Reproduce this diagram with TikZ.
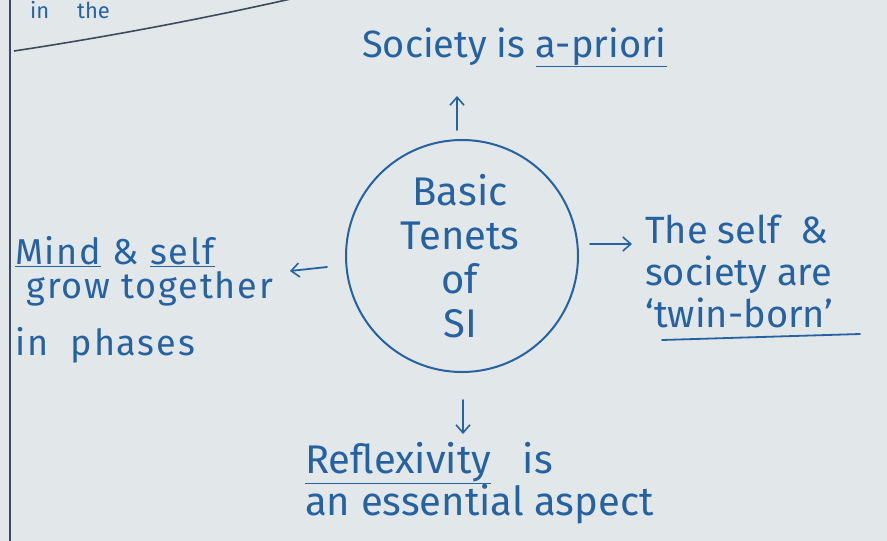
\documentclass[tikz,border=0pt]{standalone}
\usepackage{fontspec}
\setmainfont{Fira Sans}
\usetikzlibrary{arrows.meta}
\definecolor{paper}{RGB}{226,231,233}
\definecolor{ink}{RGB}{38,98,160}
\definecolor{rule}{RGB}{60,75,95}
\tikzset{
  hand/.style={text=ink, inner sep=0pt, anchor=base west, align=left},
  pen/.style={draw=ink, line width=1.8pt, line cap=round},
  penarrow/.style={pen, -{Straight Barb[length=8pt, width=14pt, line width=1.6pt]}},
}
\begin{document}
\begin{tikzpicture}[x=1pt, y=-1pt]
\fill[paper] (0,0) rectangle (887,541);
\useasboundingbox (0,0) rectangle (887,541);
% page edge and top rule
\draw[rule, line width=2.5pt] (10,0) -- (10,541);
\draw[rule, line width=1.6pt] (14,51) .. controls (120,35) and (220,15) .. (295,-2);
\node[hand, anchor=north west, font=\fontsize{22}{26}\selectfont] (topcut) at (30,1) {in \quad the};
% centre
\node[draw=ink, line width=2pt, circle, minimum size=232pt] (c) at (462,256) {};
\node[text=ink, font=\fontsize{40}{44}\selectfont, align=center, inner sep=0pt] (ct) at (460,256) {Basic\\Tenets\\of\\SI};
% top
\node[hand, font=\fontsize{38}{42}\selectfont] (top) at (362,57) {Society is \underline{a-priori}};
\coordinate (topA) at (457,130);
\coordinate (topB) at (457,96);
\draw[penarrow] (topA) -- (topB);
% right
\coordinate (rA) at (590,244);
\coordinate (rB) at (632,244);
\draw[penarrow] (rA) -- (rB);
\node[hand, font=\fontsize{38}{42}\selectfont] (right) at (645,327) {The self \ \&\\society are\\‘twin-born’};
\coordinate (ruA) at (662,340);
\coordinate (ruB) at (860,334);
\draw[pen] (ruA) -- (ruB);
% left
\node[hand, font=\fontsize{36}{34}\selectfont\addfontfeature{LetterSpace=5}] (left) at (15,355) {\underline{Mind} \& \underline{self}\\\ grow together\\[20pt]in \ phases};
\coordinate (lA) at (327,267);
\coordinate (lB) at (290,271);
\draw[penarrow] (lA) -- (lB);
% bottom
\coordinate (bA) at (463,400);
\coordinate (bB) at (463,434);
\draw[penarrow] (bA) -- (bB);
\node[hand, font=\fontsize{40}{42}\selectfont] (bot) at (305,515) {\underline{Reflexivity} \ \ is\\an essential aspect};
\end{tikzpicture}
\end{document}
